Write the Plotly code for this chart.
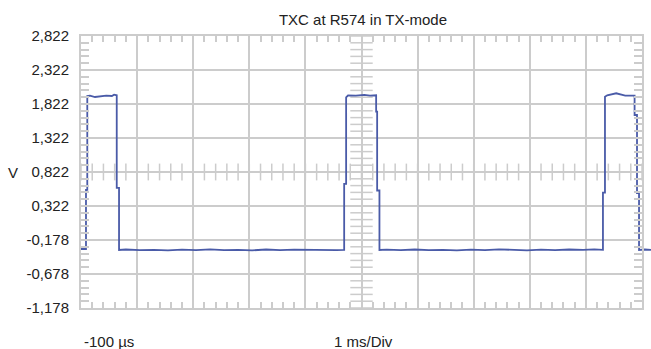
import plotly.graph_objects as go

# ---------------- data ----------------
title_text = "TXC at R574 in TX-mode"
y_label = "V"
x_start_label = "-100 \u00b5s"
x_scale_label = "1 ms/Div"

# time in ms (screen starts at -100 us, 1 ms/div, 10 divisions)
time_ms = [
    -0.100, -0.060, -0.011, -0.011, 0.012, 0.012, 0.060, 0.150, 0.250, 0.350,
    0.450, 0.490, 0.537, 0.537, 0.578, 0.578, 0.700, 0.950, 1.200, 1.450,
    1.700, 1.950, 2.200, 2.450, 2.700, 2.950, 3.200, 3.450, 3.700, 3.950,
    4.200, 4.450, 4.591, 4.591, 4.626, 4.626, 4.660, 4.800, 4.950, 5.050,
    5.161, 5.161, 5.179, 5.179, 5.220, 5.220, 5.350, 5.600, 5.850, 6.100,
    6.350, 6.600, 6.850, 7.100, 7.350, 7.600, 7.850, 8.100, 8.350, 8.600,
    8.850, 9.050, 9.204, 9.204, 9.240, 9.240, 9.280, 9.440, 9.600, 9.768,
    9.768, 9.811, 9.811, 9.847, 9.847, 9.950, 10.060,
]
volts = [
    -0.310, -0.305, -0.310, 0.560, 0.560, 1.940, 1.945, 1.925, 1.940, 1.945,
    1.940, 1.960, 1.950, 0.590, 0.590, -0.325, -0.318, -0.326, -0.322, -0.330,
    -0.320, -0.326, -0.316, -0.328, -0.322, -0.330, -0.318, -0.326, -0.320, -0.324,
    -0.318, -0.326, -0.322, 0.646, 0.646, 1.920, 1.950, 1.945, 1.955, 1.945,
    1.950, 1.710, 1.710, 0.550, 0.550, -0.325, -0.320, -0.328, -0.318, -0.326,
    -0.322, -0.330, -0.320, -0.326, -0.316, -0.324, -0.330, -0.320, -0.326, -0.318,
    -0.324, -0.316, -0.322, 0.520, 0.520, 1.930, 1.950, 1.980, 1.945, 1.945,
    1.660, 1.660, 0.510, 0.510, -0.325, -0.318, -0.322,
]
assert len(time_ms) == len(volts)

y_tick_vals = [-1.178, -0.678, -0.178, 0.322, 0.822, 1.322, 1.822, 2.322, 2.822]
y_tick_text = ["-1,178", "-0,678", "-0,178", "0,322", "0,822",
               "1,322", "1,822", "2,322", "2,822"]
x_range = [-0.1, 9.9]      # ms, 10 divisions
x_div = 1.0                # ms per division
y_div = 0.5                # V per division
n_minor = 5                # sub-divisions per division

# ---------------- style ----------------
GRID = "#cccccc"
TRACE = "#4a5ba8"
TEXT = "#222222"
FONT = "Liberation Sans, Arial, sans-serif"
W, H = 651, 349
ML, MR, MT, MB = 81, 0, 36, 41
plot_w_main = 561          # pixel width of graticule
paper_w = W - ML - MR
px_per_ms = plot_w_main / (x_range[1] - x_range[0])
x2_range = [x_range[0], x_range[0] + paper_w / px_per_ms]

# crosshair (centre) minor tick positions
x_center = (x_range[0] + x_range[1]) / 2
y_center = (y_tick_vals[0] + y_tick_vals[-1]) / 2
nx = int(round((x_range[1] - x_range[0]) / x_div * n_minor))
ny = int(round((y_tick_vals[-1] - y_tick_vals[0]) / y_div * n_minor))
cx_ticks = [x_range[0] + k * x_div / n_minor for k in range(nx + 1)]
cy_ticks = [y_tick_vals[0] + k * y_div / n_minor for k in range(ny + 1)]

fig = go.Figure()

# centre crosshair ticks
fig.add_trace(go.Scatter(
    x=cx_ticks, y=[y_center] * len(cx_ticks), mode="markers",
    marker=dict(symbol="line-ns", size=12, line=dict(width=1.5, color=GRID)),
    xaxis="x", yaxis="y2", hoverinfo="skip", showlegend=False))
fig.add_trace(go.Scatter(
    x=[x_center] * len(cy_ticks), y=cy_ticks, mode="markers",
    marker=dict(symbol="line-ew", size=16, line=dict(width=1.5, color=GRID)),
    xaxis="x", yaxis="y2", hoverinfo="skip", showlegend=False))

# waveform
fig.add_trace(go.Scatter(
    x=time_ms, y=volts, mode="lines",
    line=dict(color=TRACE, width=1.8),
    xaxis="x2", yaxis="y", hoverinfo="skip", showlegend=False))

bottom_y = (H - MB - 341.5) / (H - MT - MB)

fig.update_layout(
    width=W, height=H, autosize=False,
    margin=dict(l=ML, r=MR, t=MT, b=MB, pad=0),
    paper_bgcolor="white", plot_bgcolor="rgba(0,0,0,0)",
    font=dict(family=FONT, size=15, color=TEXT),
    title=dict(text=title_text, x=363 / W, xref="container", xanchor="center",
               y=1 - 20 / H, yref="container", yanchor="middle",
               font=dict(family=FONT, size=15, color=TEXT)),
    xaxis=dict(
        domain=[0, plot_w_main / paper_w], range=x_range, anchor="y",
        tickmode="linear", tick0=x_range[0], dtick=x_div,
        showticklabels=False, showgrid=True, gridcolor=GRID, gridwidth=2,
        zeroline=False, showline=True, linecolor=GRID, linewidth=2, mirror="ticks",
        ticks="inside", ticklen=6, tickcolor=GRID, tickwidth=1.5,
        minor=dict(tickmode="linear", tick0=x_range[0], dtick=x_div / n_minor,
                   ticks="inside", ticklen=6, tickcolor=GRID, tickwidth=1.5,
                   showgrid=False),
    ),
    xaxis2=dict(domain=[0, 1], range=x2_range, anchor="y", visible=False,
                showgrid=False, zeroline=False),
    yaxis=dict(
        domain=[0, 1], range=[y_tick_vals[0], y_tick_vals[-1]], anchor="x",
        tickmode="array", tickvals=y_tick_vals, ticktext=y_tick_text,
        tickfont=dict(family=FONT, size=15, color=TEXT), ticklabelstandoff=7,
        showgrid=False, zeroline=False,
        showline=True, linecolor=GRID, linewidth=2, mirror="ticks",
        ticks="inside", ticklen=8, tickcolor=GRID, tickwidth=1.5,
        minor=dict(tickmode="linear", tick0=y_tick_vals[0], dtick=y_div / n_minor,
                   ticks="inside", ticklen=8, tickcolor=GRID, tickwidth=1.5,
                   showgrid=False),
    ),
    yaxis2=dict(
        overlaying="y", anchor="x", range=[y_tick_vals[0], y_tick_vals[-1]],
        tickmode="array", tickvals=y_tick_vals, showticklabels=False,
        showgrid=True, gridcolor=GRID, gridwidth=2, zeroline=False,
        showline=False, ticks="",
    ),
    annotations=[
        dict(text=y_label, xref="paper", yref="y", x=(12.5 - ML) / paper_w, y=y_center,
             xanchor="center", yanchor="middle", showarrow=False,
             font=dict(family=FONT, size=15, color=TEXT)),
        dict(text=x_start_label, xref="paper", yref="paper",
             x=(82 - ML) / paper_w, y=bottom_y,
             xanchor="left", yanchor="middle", showarrow=False,
             font=dict(family=FONT, size=15, color=TEXT)),
        dict(text=x_scale_label, xref="paper", yref="paper",
             x=(363.5 - ML) / paper_w, y=bottom_y,
             xanchor="center", yanchor="middle", showarrow=False,
             font=dict(family=FONT, size=15, color=TEXT)),
    ],
)

fig.write_html("out.html")
